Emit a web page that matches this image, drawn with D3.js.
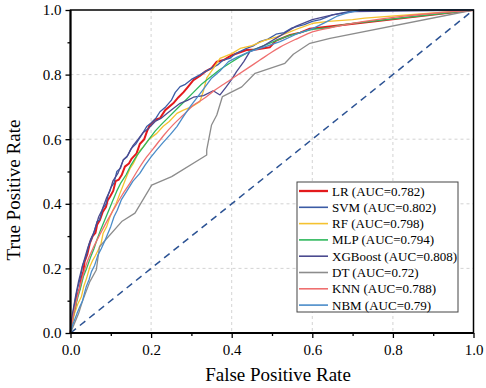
<!DOCTYPE html>
<html>
<head>
<meta charset="utf-8">
<script src="https://cdn.jsdelivr.net/npm/d3@7"></script>
<style>
  body { margin: 0; background: #fff; }
  svg text { font-family: "Liberation Serif", "Times New Roman", Times, "DejaVu Serif", serif !important; }
</style>
</head>
<body>
<div id="chart"></div>
<script>
// ROC points [fpr, tpr]
const lrPts = [[0,0],[0.002,0.02],[0.006,0.05],[0.012,0.08],[0.015,0.11],[0.023,0.138],[0.027,0.17],[0.032,0.19],[0.035,0.221],[0.042,0.245],[0.048,0.278],[0.055,0.30],[0.062,0.31],[0.066,0.335],[0.073,0.35],[0.08,0.375],[0.088,0.39],[0.092,0.41],[0.098,0.422],[0.106,0.44],[0.112,0.47],[0.12,0.475],[0.127,0.489],[0.135,0.515],[0.145,0.525],[0.152,0.54],[0.164,0.556],[0.172,0.585],[0.183,0.60],[0.19,0.625],[0.197,0.644],[0.21,0.66],[0.222,0.665],[0.235,0.69],[0.255,0.711],[0.268,0.73],[0.28,0.745],[0.29,0.76],[0.305,0.783],[0.32,0.795],[0.335,0.81],[0.35,0.82],[0.363,0.84],[0.38,0.845],[0.40,0.86],[0.437,0.876],[0.46,0.878],[0.495,0.885],[0.51,0.905],[0.545,0.923],[0.57,0.93],[0.594,0.942],[1,1]];
const svmPts = [[0,0],[0.003,0.03],[0.006,0.06],[0.01,0.09],[0.016,0.13],[0.02,0.15],[0.026,0.18],[0.03,0.21],[0.038,0.235],[0.045,0.27],[0.052,0.29],[0.06,0.32],[0.066,0.345],[0.072,0.35],[0.08,0.385],[0.088,0.40],[0.094,0.43],[0.1,0.45],[0.108,0.465],[0.115,0.50],[0.124,0.51],[0.131,0.536],[0.14,0.545],[0.15,0.57],[0.162,0.585],[0.175,0.61],[0.189,0.639],[0.2,0.65],[0.212,0.665],[0.222,0.685],[0.236,0.70],[0.25,0.72],[0.26,0.745],[0.272,0.763],[0.285,0.77],[0.3,0.785],[0.321,0.799],[0.335,0.81],[0.35,0.82],[0.365,0.83],[0.379,0.845],[0.395,0.85],[0.41,0.865],[0.437,0.881],[0.455,0.89],[0.47,0.902],[0.49,0.91],[0.51,0.925],[0.53,0.93],[0.55,0.945],[0.58,0.955],[0.6,0.965],[0.62,0.97],[0.65,0.985],[0.69,0.995],[0.75,1],[1,1]];
const rfPts = [[0,0],[0.004,0.03],[0.01,0.06],[0.018,0.09],[0.027,0.112],[0.033,0.145],[0.04,0.17],[0.048,0.205],[0.055,0.225],[0.062,0.24],[0.07,0.26],[0.076,0.278],[0.081,0.309],[0.09,0.33],[0.098,0.36],[0.105,0.38],[0.113,0.40],[0.123,0.433],[0.13,0.455],[0.139,0.484],[0.148,0.51],[0.156,0.525],[0.164,0.546],[0.172,0.565],[0.181,0.577],[0.195,0.60],[0.214,0.618],[0.23,0.64],[0.245,0.655],[0.264,0.68],[0.28,0.69],[0.3,0.70],[0.321,0.716],[0.33,0.75],[0.338,0.79],[0.355,0.82],[0.371,0.85],[0.4,0.865],[0.421,0.881],[0.45,0.89],[0.48,0.905],[0.512,0.917],[0.54,0.93],[0.57,0.945],[0.602,0.959],[0.64,0.965],[0.7,0.97],[0.73,0.975],[1,1]];
const mlpPts = [[0,0],[0.004,0.035],[0.01,0.07],[0.018,0.11],[0.025,0.14],[0.032,0.175],[0.04,0.20],[0.05,0.235],[0.058,0.26],[0.066,0.29],[0.075,0.32],[0.085,0.35],[0.095,0.38],[0.105,0.41],[0.115,0.44],[0.125,0.465],[0.138,0.49],[0.15,0.52],[0.165,0.55],[0.18,0.575],[0.195,0.60],[0.21,0.625],[0.225,0.645],[0.245,0.67],[0.265,0.695],[0.285,0.72],[0.305,0.745],[0.325,0.77],[0.345,0.79],[0.37,0.815],[0.395,0.835],[0.42,0.855],[0.45,0.875],[0.48,0.89],[0.51,0.905],[0.54,0.92],[0.57,0.93],[0.6,0.94],[0.64,0.945],[0.66,0.95],[0.69,0.957],[1,1]];
const xgbPts = [[0,0],[0.003,0.04],[0.005,0.06],[0.012,0.11],[0.02,0.16],[0.028,0.2],[0.035,0.23],[0.042,0.26],[0.05,0.29],[0.058,0.31],[0.07,0.36],[0.078,0.38],[0.09,0.42],[0.098,0.44],[0.105,0.47],[0.118,0.495],[0.131,0.536],[0.142,0.55],[0.155,0.58],[0.168,0.60],[0.18,0.62],[0.195,0.635],[0.21,0.655],[0.225,0.665],[0.24,0.68],[0.255,0.695],[0.272,0.711],[0.29,0.72],[0.305,0.73],[0.33,0.735],[0.354,0.75],[0.371,0.737],[0.385,0.76],[0.4,0.785],[0.412,0.809],[0.43,0.84],[0.445,0.871],[0.48,0.89],[0.52,0.92],[0.56,0.95],[0.6,0.97],[0.65,0.985],[0.7,0.995],[1,1]];
const dtPts = [[0,0],[0.01,0.03],[0.02,0.06],[0.03,0.10],[0.048,0.159],[0.064,0.195],[0.072,0.267],[0.127,0.345],[0.16,0.371],[0.2015,0.458],[0.251,0.484],[0.338,0.551],[0.338,0.567],[0.350,0.644],[0.363,0.675],[0.377,0.732],[0.425,0.762],[0.458,0.804],[0.532,0.835],[0.553,0.863],[0.594,0.897],[0.644,0.912],[1,1]];
const knnPts = [[0,0],[0.005,0.04],[0.015,0.1],[0.027,0.16],[0.04,0.215],[0.055,0.26],[0.073,0.305],[0.09,0.345],[0.106,0.38],[0.127,0.425],[0.148,0.465],[0.17,0.51],[0.189,0.545],[0.205,0.57],[0.23,0.61],[0.255,0.645],[0.28,0.675],[0.305,0.705],[0.33,0.725],[0.354,0.748],[0.38,0.77],[0.404,0.79],[0.44,0.82],[0.47,0.845],[0.5,0.87],[0.52,0.885],[0.56,0.91],[0.602,0.933],[0.644,0.945],[1,1]];
const nbmPts = [[0,0],[0.004,0.02],[0.01,0.04],[0.016,0.06],[0.023,0.081],[0.03,0.10],[0.035,0.125],[0.039,0.143],[0.046,0.165],[0.052,0.19],[0.06,0.21],[0.068,0.241],[0.076,0.26],[0.085,0.285],[0.093,0.309],[0.1,0.33],[0.108,0.36],[0.116,0.38],[0.126,0.412],[0.14,0.44],[0.155,0.47],[0.172,0.494],[0.185,0.52],[0.2,0.545],[0.214,0.567],[0.23,0.59],[0.248,0.615],[0.264,0.639],[0.28,0.67],[0.297,0.701],[0.313,0.727],[0.33,0.755],[0.35,0.789],[0.37,0.81],[0.392,0.84],[0.415,0.855],[0.445,0.871],[0.48,0.885],[0.52,0.902],[0.56,0.925],[0.602,0.943],[0.63,0.96],[0.66,0.98],[0.685,0.99],[0.72,1],[1,1]];

const names = ["LR", "SVM", "RF", "MLP", "XGBoost", "DT", "KNN", "NBM"];
const aucs = ["0.782", "0.802", "0.798", "0.794", "0.808", "0.72", "0.788", "0.79"];
const curves = [lrPts, svmPts, rfPts, mlpPts, xgbPts, dtPts, knnPts, nbmPts];
const colors = ["#e31a1c", "#3b5ba5", "#f5c230", "#2eb85c", "#4b4a8f", "#8c8c8c", "#ef6f6f", "#4a8cc9"];
const widths = [2, 1.3, 1.3, 1.3, 1.3, 1.3, 1.3, 1.3];

const majorTicks = [0, 0.2, 0.4, 0.6, 0.8, 1.0];
const minorTicks = [0.1, 0.3, 0.5, 0.7, 0.9];
const gridTicks = [0.2, 0.4, 0.6, 0.8];

const FONT = '"Liberation Serif", "Times New Roman", Times, "DejaVu Serif", serif';

const W = 486, H = 388;
const margin = {top: 10, right: 12.5, bottom: 55, left: 70.5};
const width = W - margin.left - margin.right,
    height = H - margin.top - margin.bottom;

const root = d3.select("#chart").append("svg")
    .attr("width", W)
    .attr("height", H)
    .attr("font-family", FONT);
root.append("rect").attr("width", W).attr("height", H).attr("fill", "#fff");

const svg = root.append("g")
    .attr("transform", `translate(${margin.left}, ${margin.top})`);

const x = d3.scaleLinear().domain([0, 1]).range([0, width]);
const y = d3.scaleLinear().domain([0, 1]).range([height, 0]);

// grid
svg.append("g").selectAll("line")
    .data(gridTicks)
    .join("line")
    .attr("x1", d => x(d)).attr("x2", d => x(d))
    .attr("y1", 0).attr("y2", height)
    .attr("stroke", "#c8c8c8").attr("stroke-width", 0.8)
    .attr("stroke-dasharray", "3,3");
svg.append("g").selectAll("line")
    .data(gridTicks)
    .join("line")
    .attr("y1", d => y(d)).attr("y2", d => y(d))
    .attr("x1", 0).attr("x2", width)
    .attr("stroke", "#c8c8c8").attr("stroke-width", 0.8)
    .attr("stroke-dasharray", "3,3");

// diagonal
svg.append("line")
    .attr("x1", x(0)).attr("y1", y(0))
    .attr("x2", x(1)).attr("y2", y(1))
    .attr("stroke", "#2c5394").attr("stroke-width", 1.5)
    .attr("stroke-dasharray", "7,5");

// curves
const line = d3.line().x(d => x(d[0])).y(d => y(d[1]));
const smooth = d3.line().x(d => x(d[0])).y(d => y(d[1])).curve(d3.curveMonotoneX);
svg.append("g").selectAll("path")
    .data(curves)
    .join("path")
    .attr("d", (d, i) => names[i] === "KNN" ? smooth(d) : line(d))
    .attr("fill", "none")
    .attr("stroke", (d, i) => colors[i])
    .attr("stroke-width", (d, i) => widths[i])
    .attr("stroke-linejoin", "round");

// axes
const fmt = d3.format(".1f");
svg.append("g")
    .attr("transform", `translate(0, ${height})`)
    .call(d3.axisBottom(x).tickValues(majorTicks).tickFormat(fmt).tickSize(5).tickPadding(6));
svg.append("g")
    .attr("transform", `translate(0, ${height})`)
    .call(d3.axisBottom(x).tickValues(minorTicks).tickFormat("").tickSize(3));
svg.append("g")
    .call(d3.axisLeft(y).tickValues(majorTicks).tickFormat(fmt).tickSize(5).tickPadding(4));
svg.append("g")
    .call(d3.axisLeft(y).tickValues(minorTicks).tickFormat("").tickSize(3));

svg.selectAll(".domain").remove();
svg.selectAll("g").filter(function() { return this.hasAttribute("font-family"); })
    .attr("font-family", FONT).attr("font-size", 15);
svg.selectAll(".tick line").attr("stroke", "#000").attr("stroke-width", 1.3);
svg.selectAll(".tick text").attr("fill", "#000");

// frame
svg.append("rect")
    .attr("width", width).attr("height", height)
    .attr("fill", "none").attr("stroke", "#000").attr("stroke-width", 1.5);
svg.append("line").attr("x1", 0).attr("x2", 0).attr("y1", 0).attr("y2", height)
    .attr("stroke", "#000").attr("stroke-width", 2);
svg.append("line").attr("x1", 0).attr("x2", width).attr("y1", height).attr("y2", height)
    .attr("stroke", "#000").attr("stroke-width", 2);

// axis titles
root.append("text")
    .attr("x", 278).attr("y", 381)
    .attr("text-anchor", "middle")
    .attr("font-size", 19)
    .text("False Positive Rate");
root.append("text")
    .attr("transform", "translate(20, 190) rotate(-90)")
    .attr("text-anchor", "middle")
    .attr("font-size", 19)
    .text("True Positive Rate");

// legend
const legend = root.append("g").attr("transform", "translate(297, 182)");
legend.append("rect")
    .attr("width", 161).attr("height", 130)
    .attr("fill", "#fff").attr("stroke", "#444").attr("stroke-width", 1);
const items = legend.selectAll("g.item")
    .data(names)
    .join("g")
    .attr("class", "item")
    .attr("transform", (d, i) => `translate(0, ${9 + i * 16.3})`);
items.append("line")
    .attr("x1", 2).attr("x2", 31)
    .attr("stroke", (d, i) => colors[i])
    .attr("stroke-width", (d, i) => widths[i] + 0.3);
items.append("text")
    .attr("x", 35).attr("dy", "0.35em")
    .attr("font-size", 13)
    .text((d, i) => `${d} (AUC=${aucs[i]})`);
</script>
</body>
</html>
